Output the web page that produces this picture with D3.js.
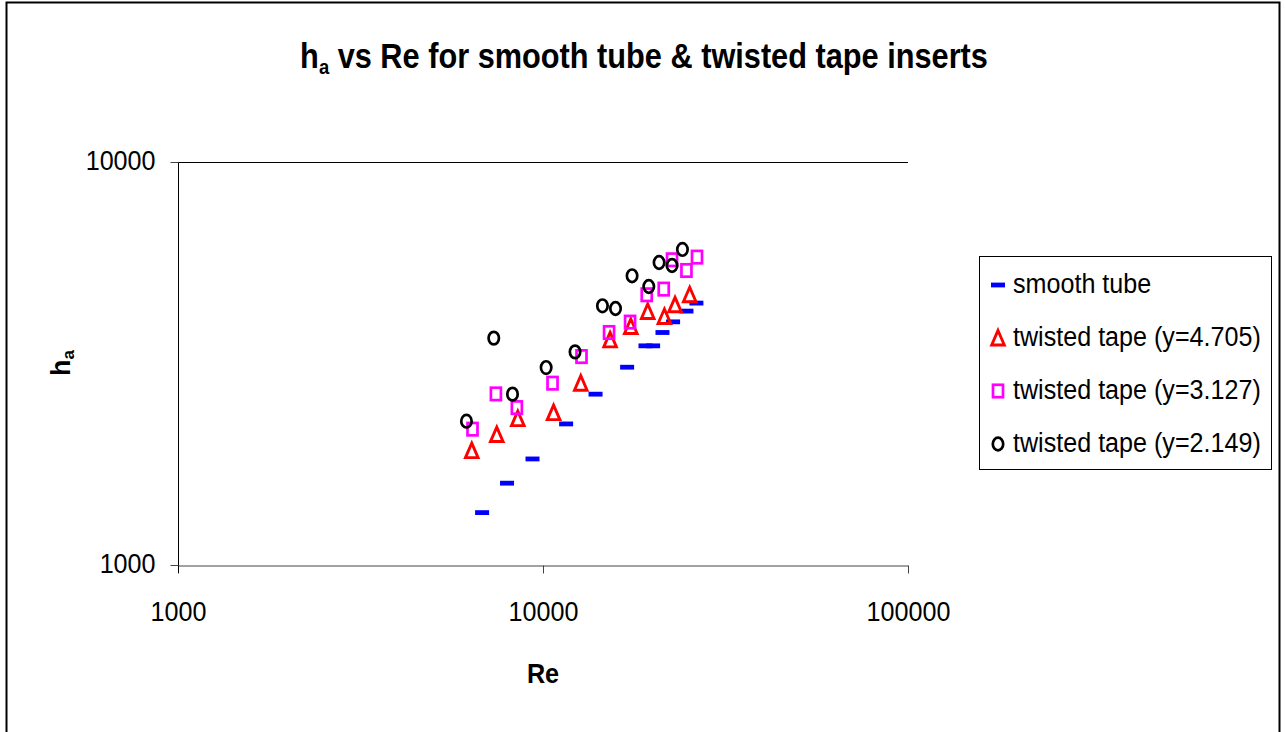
<!doctype html>
<html lang="en">
<head>
	<meta charset="UTF-8">
	<title>ha vs Re | d3</title>
	<style>
		body { margin: 0; background: #fff; }
		svg text { font-family: "Liberation Sans", Arial, sans-serif; fill: #000; }
		.tick text { font-size: 27px; }
		.legend text { font-size: 27px; }
	</style>
</head>
<body>
	<script src="https://cdn.jsdelivr.net/npm/d3@7/dist/d3.min.js"></script>
	<script>
		// values
		var xTicks = [1000, 10000, 100000],
			yTicks = [1000, 10000];

		var smoothRe = [6810, 7970, 9360, 11570, 13930, 17000, 19090, 20030, 21250, 22720, 24720, 26320],
			smoothHa = [1349, 1596, 1833, 2239, 2654, 3096, 3498, 3498, 3775, 4012, 4266, 4466];

		var tapeARe = [6380, 7470, 8530, 10690, 12690, 15270, 17400, 19360, 21510, 23000, 25230],
			tapeAHa = [1922, 2107, 2308, 2389, 2826, 3620, 3907, 4256, 4136, 4422, 4683];

		var tapeBRe = [6410, 7430, 8480, 10620, 12750, 15170, 17320, 19240, 21420, 22570, 24720, 26420],
			tapeBHa = [2173, 2658, 2458, 2826, 3290, 3775, 4006, 4683, 4837, 5720, 5380, 5808];

		var tapeCRe = [6170, 7330, 8250, 10200, 12240, 14550, 15800, 17540, 19490, 20800, 22570, 24100],
			tapeCHa = [2274, 3656, 2654, 3090, 3380, 4397, 4330, 5220, 4910, 5632, 5536, 6067];

		var seriesNames = ['smooth tube', 'twisted tape (y=4.705)', 'twisted tape (y=3.127)', 'twisted tape (y=2.149)'];

		var w = 1285,
			h = 732,
			squeeze = 0.93;

		var series = [
			{ name: seriesNames[0], shape: 'dash', color: '#0000ff', re: smoothRe, ha: smoothHa },
			{ name: seriesNames[1], shape: 'triangle', color: '#ff0000', re: tapeARe, ha: tapeAHa },
			{ name: seriesNames[2], shape: 'square', color: '#ff00ff', re: tapeBRe, ha: tapeBHa },
			{ name: seriesNames[3], shape: 'circle', color: '#000000', re: tapeCRe, ha: tapeCHa }
		];

		var svg = d3.select('body')
			.append('svg')
			.attr('width', w)
			.attr('height', h);

		// outer frame
		svg.append('rect')
			.attr('x', 6.5).attr('y', 2.5)
			.attr('width', 1273).attr('height', 740)
			.attr('fill', 'none')
			.attr('stroke', '#000')
			.attr('stroke-width', 2);

		var xScale = d3.scaleLog().domain([1000, 100000]).range([178, 908]),
			yScale = d3.scaleLog().domain([1000, 10000]).range([565, 162]);

		// condense text a bit, like the original
		var condense = function(sel, k) {
			sel.each(function() {
				var len = this.getComputedTextLength();
				d3.select(this)
					.attr('textLength', len * k)
					.attr('lengthAdjust', 'spacingAndGlyphs');
			});
		};

		// gridline at top
		svg.append('g')
			.selectAll('line')
			.data(yTicks.slice(1))
			.enter()
			.append('line')
			.attr('x1', xScale(1000)).attr('x2', xScale(100000))
			.attr('y1', function(d) { return Math.round(yScale(d)) + 0.5; })
			.attr('y2', function(d) { return Math.round(yScale(d)) + 0.5; })
			.attr('stroke', '#000');

		var xAxis = svg.append('g')
			.attr('transform', 'translate(0,565.5)')
			.call(d3.axisBottom(xScale)
				.tickValues(xTicks)
				.tickFormat(d3.format('d'))
				.tickSize(8)
				.tickSizeOuter(0)
				.tickPadding(28));
		xAxis.select('.domain').attr('stroke', '#444');
		xAxis.selectAll('.tick line').attr('stroke', '#444');
		xAxis.selectAll('.tick text').attr('font-family', null).attr('font-size', null);
		condense(xAxis.selectAll('.tick text'), squeeze);

		var yAxis = svg.append('g')
			.attr('transform', 'translate(178.5,0)')
			.call(d3.axisLeft(yScale)
				.tickValues(yTicks)
				.tickFormat(d3.format('d'))
				.tickSize(8)
				.tickSizeOuter(0)
				.tickPadding(15));
		yAxis.select('.domain').attr('d', 'M0,162V573').attr('stroke', '#000');
		yAxis.selectAll('.tick line').attr('stroke', '#444');
		yAxis.selectAll('.tick text').attr('font-family', null).attr('font-size', null).attr('dy', '0.28em');
		condense(yAxis.selectAll('.tick text'), squeeze);

		// markers
		var drawMarker = function(g, shape, color) {
			if (shape === 'dash') {
				g.append('rect')
					.attr('x', -7).attr('y', -2.4)
					.attr('width', 14).attr('height', 4.8)
					.attr('fill', color);
			} else if (shape === 'triangle') {
				g.append('path')
					.attr('d', 'M0,-7.5L6.3,7L-6.3,7Z')
					.attr('fill', 'none')
					.attr('stroke', color)
					.attr('stroke-width', 2.9);
			} else if (shape === 'square') {
				g.append('rect')
					.attr('x', -5).attr('y', -6.2)
					.attr('width', 10).attr('height', 12.4)
					.attr('fill', 'none')
					.attr('stroke', color)
					.attr('stroke-width', 2.7);
			} else {
				g.append('ellipse')
					.attr('rx', 5.2).attr('ry', 6.3)
					.attr('fill', 'none')
					.attr('stroke', color)
					.attr('stroke-width', 2.7);
			}
		};

		series.forEach(function(s) {
			var pts = s.re.map(function(r, i) { return [r, s.ha[i]]; });
			svg.append('g')
				.selectAll('g')
				.data(pts)
				.enter()
				.append('g')
				.attr('transform', function(d) {
					return 'translate(' + xScale(d[0]) + ',' + yScale(d[1]) + ')';
				})
				.each(function() { drawMarker(d3.select(this), s.shape, s.color); });
		});

		// title
		var title = svg.append('g').attr('transform', 'translate(644,68)');
		var tt = title.append('text')
			.attr('text-anchor', 'middle')
			.attr('font-size', 35)
			.attr('font-weight', 'bold');
		tt.append('tspan').text('h');
		tt.append('tspan').attr('font-size', 21).attr('dy', 6).text('a');
		tt.append('tspan').attr('dy', -6).text(' vs Re for smooth tube & twisted tape inserts');
		var tw = tt.node().getBBox().width;
		tt.attr('transform', 'scale(' + (688 / tw) + ',1)');

		// axis titles
		var xt = svg.append('text')
			.attr('x', 543).attr('y', 683)
			.attr('text-anchor', 'middle')
			.attr('font-size', 28)
			.attr('font-weight', 'bold')
			.text('Re');
		condense(xt, 0.9);

		var yt = svg.append('text')
			.attr('transform', 'translate(70,363) rotate(-90)')
			.attr('text-anchor', 'middle')
			.attr('font-size', 27)
			.attr('font-weight', 'bold');
		yt.append('tspan').text('h');
		yt.append('tspan').attr('font-size', 17).attr('dy', 4).text('a');

		// legend
		var legend = svg.append('g').attr('class', 'legend');
		legend.append('rect')
			.attr('x', 979.5).attr('y', 256.5)
			.attr('width', 292).attr('height', 213)
			.attr('fill', '#fff')
			.attr('stroke', '#000');

		var items = legend.selectAll('g.item')
			.data(series)
			.enter()
			.append('g')
			.attr('class', 'item')
			.attr('transform', function(d, i) { return 'translate(0,' + (293 + i * 53) + ')'; });

		items.append('g')
			.attr('transform', 'translate(998,-8)')
			.each(function(d) { drawMarker(d3.select(this), d.shape, d.color); });

		var lt = items.append('text')
			.attr('x', 1013)
			.attr('y', 0)
			.text(function(d) { return d.name; });
		condense(lt, squeeze);
	</script>
</body>
</html>
